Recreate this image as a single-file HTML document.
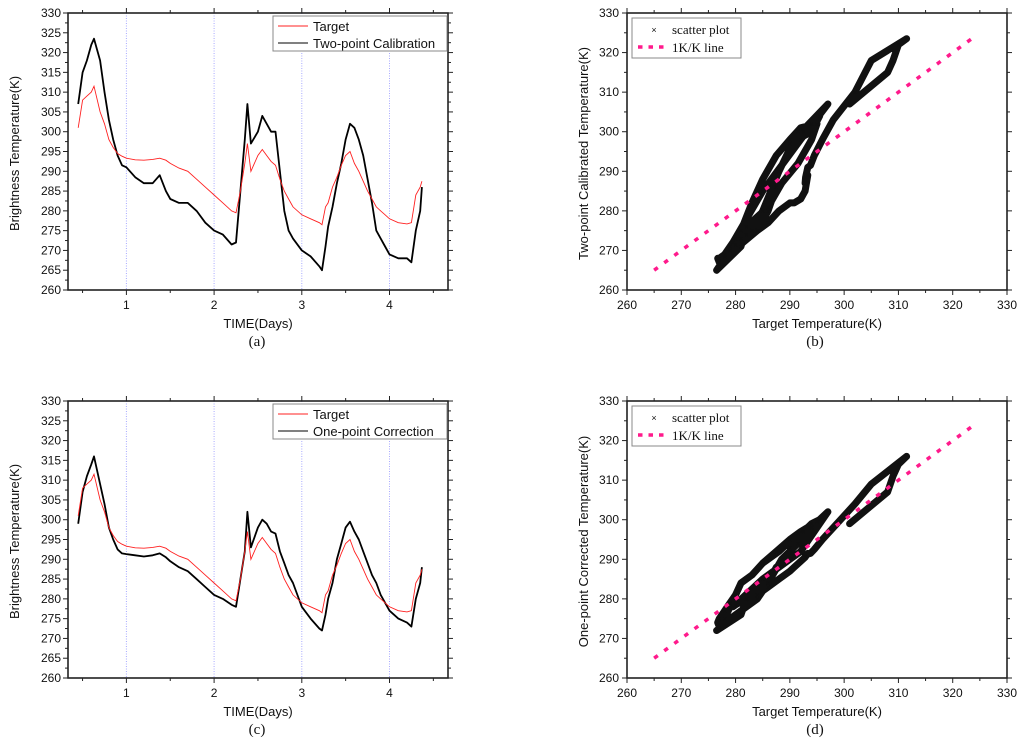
<!DOCTYPE html>
<html><head><meta charset="utf-8"><style>
body{margin:0;background:#fff;}
svg{display:block;}
text{font-family:"Liberation Sans",Arial,sans-serif;fill:#111;}
.serif{font-family:"Liberation Serif",serif;}
</style></head><body>
<svg id="fig" width="1024" height="746" viewBox="0 0 1024 746" xmlns="http://www.w3.org/2000/svg"></svg>
<script>
const times=[0.45,0.5,0.55,0.6,0.63,0.7,0.75,0.8,0.85,0.9,0.95,1.0,1.1,1.2,1.3,1.38,1.45,1.5,1.6,1.7,1.8,1.9,2.0,2.1,2.2,2.25,2.3,2.35,2.38,2.42,2.5,2.55,2.6,2.65,2.7,2.75,2.8,2.85,2.9,3.0,3.1,3.2,3.23,3.27,3.3,3.35,3.4,3.45,3.5,3.55,3.6,3.65,3.7,3.75,3.8,3.85,3.9,3.95,4.0,4.1,4.2,4.25,4.3,4.35,4.37];
const target=[301,308,309,310,311.5,305,302,298,296,294.5,293.8,293.3,292.9,292.8,293,293.3,292.8,292,290.8,290,288,286,284,282,280,279.5,285,292,297,290,294,295.5,294,292.5,291.5,288,285,283,281,279,278,277,276.5,281,282,286,288.5,291.5,294,295,292,290,287.5,285,283,281,280,279,278,277,276.7,277,284,286,287.5];
const twoPoint=[307,315,318,322,323.5,318,310,303,298,294,291.5,291,288.5,287,287,289,285,283,282,282,280,277,275,274,271.5,272,285,298,307,297,300,304,302,300,300,290,280,275,273,270,268.5,266,265,271,276,281,287,292,298,302,301,298,294,288,282,275,273,271,269,268,268,267,275,280,286];
const onePoint=[299,307,311,314,316,309,304,298,295,292.5,291.5,291.3,291,290.7,291,291.5,290.5,289.5,288,287,285,283,281,280,278.5,278,285,292,302,293,298,300,299,297,296.5,292,289,286,284,278,275,272.5,272,276,280,284,290,294,298,299.5,297,295,292,289,286,284,281,279,277,275,274,273,280,284,288];
const yTicks=[260,265,270,275,280,285,290,295,300,305,310,315,320,325,330];
const dayTicks=[1,2,3,4];
const tempTicks=[260,270,280,290,300,310,320,330];
const refLine=[265,324];

const NS="http://www.w3.org/2000/svg";
const svg=document.getElementById('fig');
function el(tag,attrs,parent,txt){const e=document.createElementNS(NS,tag);for(const k in attrs)e.setAttribute(k,attrs[k]);if(txt!==undefined)e.textContent=txt;(parent||svg).appendChild(e);return e;}

function frame(g,L,R,T,B,xmaj,xminStep,xmin,xmax,ymaj,yminStep,ymin,ymax,sx,sy){
  for(let v=ymin;v<=ymax+1e-9;v+=yminStep){const y=sy(v);const maj=ymaj.some(m=>Math.abs(m-v)<1e-6);const l=maj?5:3;
    el('line',{x1:L-l,x2:L,y1:y,y2:y,stroke:'#222','stroke-width':1},g);
    el('line',{x1:R,x2:R+l,y1:y,y2:y,stroke:'#222','stroke-width':1},g);}
  for(let v=xmin;v<=xmax+1e-9;v+=xminStep){const x=sx(v);if(x<L-0.5||x>R+0.5)continue;const maj=xmaj.some(m=>Math.abs(m-v)<1e-6);const l=maj?5:3;
    el('line',{x1:x,x2:x,y1:B,y2:B+l,stroke:'#222','stroke-width':1},g);
    el('line',{x1:x,x2:x,y1:T-l,y2:T,stroke:'#222','stroke-width':1},g);}
  el('rect',{x:L,y:T,width:R-L,height:B-T,fill:'none',stroke:'#222','stroke-width':1.6},g);
}

function timePanel(id,oy,series,seriesName,caption){
  const g=el('g',{});
  
  
  const L=68,R=448,T=13+oy,B=290+oy;
  const sx=d=>38.7+87.7*d, sy=v=>B-(v-260)*(B-T)/70;
  dayTicks.forEach(d=>{const vl=el('line',{x1:sx(d),x2:sx(d),y1:T,y2:B,stroke:'#a8aaff','stroke-width':1,'stroke-dasharray':'1 1.5'},g);
    });
  const lineOf=(arr)=>times.map((t,i)=>sx(t).toFixed(1)+','+sy(arr[i]).toFixed(1)).join(' ');
  const p1=el('polyline',{points:lineOf(series),fill:'none',stroke:'#000','stroke-width':1.8,'stroke-linejoin':'round'},g);
  
  const p2=el('polyline',{points:lineOf(target),fill:'none',stroke:'#ff2020','stroke-width':0.9},g);
  
  frame(g,L,R,T,B,dayTicks,0.5,0.5,4.5,yTicks,2.5,260,330,sx,sy);
  yTicks.forEach(v=>{const t=el('text',{x:61,y:sy(v)+4,'text-anchor':'end','font-size':12},g,v);});
  dayTicks.forEach(d=>{const t=el('text',{x:sx(d),y:B+19,'text-anchor':'middle','font-size':12},g,d);});
  const yt=el('text',{x:0,y:0,transform:`translate(19,${(T+B)/2+2}) rotate(-90)`,'text-anchor':'middle','font-size':13},g,'Brightness Temperature(K)');
  
  const xt=el('text',{x:258,y:B+38,'text-anchor':'middle','font-size':13},g,'TIME(Days)');
  
  const cp=el('text',{x:257,y:B+56,'text-anchor':'middle','font-size':15,class:'serif'},g,caption);
  
  const lg=el('g',{},g);
  
  el('rect',{x:273,y:T+3,width:174,height:35,fill:'#fff',stroke:'#888','stroke-width':1},lg);
  el('line',{x1:278,x2:308,y1:T+13,y2:T+13,stroke:'#ff2020','stroke-width':1},lg);
  el('text',{x:313,y:T+18,'font-size':13},lg,'Target');
  el('line',{x1:278,x2:308,y1:T+30,y2:T+30,stroke:'#000','stroke-width':1},lg);
  el('text',{x:313,y:T+35,'font-size':13},lg,seriesName);
}

function scatterPanel(id,oy,series,ytitle,caption){
  const g=el('g',{});
  
  
  const L=627,R=1007,T=13+oy,B=290+oy;
  const sx=v=>L+(v-260)*(R-L)/70, sy=v=>B-(v-260)*(B-T)/70;
  const pts=target.map((t,i)=>sx(t).toFixed(1)+','+sy(series[i]).toFixed(1)).join(' ');
  const band=el('polyline',{points:pts,fill:'none',stroke:'#111','stroke-width':7,'stroke-linejoin':'round','stroke-linecap':'round'},g);
  
  target.forEach((t,i)=>{const m=el('text',{x:sx(t),y:sy(series[i])+3,'text-anchor':'middle','font-size':8,fill:'#222'},g,'×');
    });
  const rl=el('line',{x1:sx(refLine[0]),y1:sy(refLine[0]),x2:sx(refLine[1]),y2:sy(refLine[1]),stroke:'#ff1a8c','stroke-width':3.5,'stroke-dasharray':'4.5 8'},g);
  
  frame(g,L,R,T,B,tempTicks,5,260,330,tempTicks,5,260,330,sx,sy);
  tempTicks.forEach(v=>{const t=el('text',{x:619,y:sy(v)+4,'text-anchor':'end','font-size':12},g,v);
    const u=el('text',{x:sx(v),y:B+19,'text-anchor':'middle','font-size':12},g,v);});
  const yt=el('text',{x:0,y:0,transform:`translate(588,${(T+B)/2+2}) rotate(-90)`,'text-anchor':'middle','font-size':13},g,ytitle);
  
  const xt=el('text',{x:817,y:B+38,'text-anchor':'middle','font-size':13},g,'Target Temperature(K)');
  
  const cp=el('text',{x:815,y:B+56,'text-anchor':'middle','font-size':15,class:'serif'},g,caption);
  
  const lg=el('g',{},g);
  
  el('rect',{x:632,y:T+5,width:109,height:40,fill:'#fff',stroke:'#888','stroke-width':1},lg);
  el('text',{x:654,y:T+20,'text-anchor':'middle','font-size':9,fill:'#333'},lg,'×');
  el('text',{x:672,y:T+21,'font-size':13,class:'serif'},lg,'scatter plot');
  el('line',{x1:638,x2:668,y1:T+34,y2:T+34,stroke:'#ff1a8c','stroke-width':3.5,'stroke-dasharray':'4.5 6'},lg);
  el('text',{x:672,y:T+39,'font-size':13,class:'serif'},lg,'1K/K line');
}

timePanel('panel-a-time-series',0,twoPoint,'Two-point Calibration','(a)');
scatterPanel('panel-b-scatter',0,twoPoint,'Two-point Calibrated Temperature(K)','(b)');
timePanel('panel-c-time-series',388,onePoint,'One-point Correction','(c)');
scatterPanel('panel-d-scatter',388,onePoint,'One-point Corrected Temperature(K)','(d)');
</script>
</body></html>
